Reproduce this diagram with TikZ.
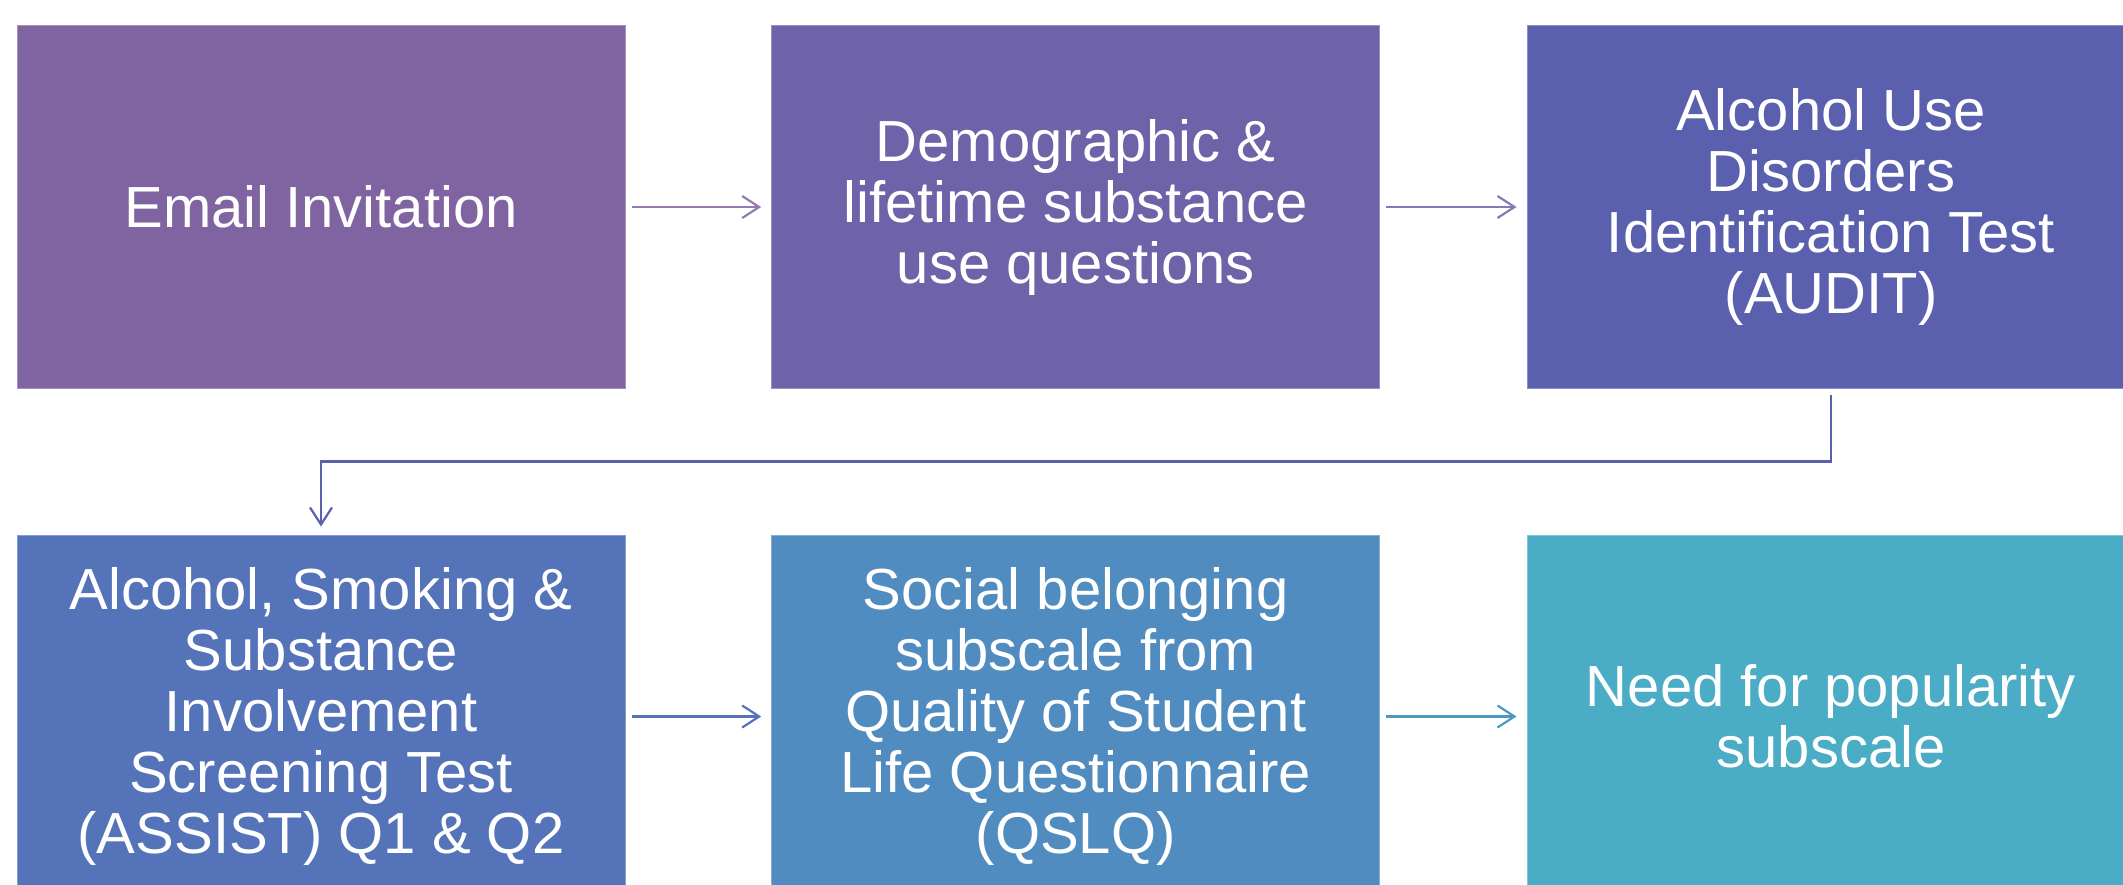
\documentclass[tikz,border=0pt]{standalone}
\usepackage{fontspec}
\setmainfont{Liberation Sans}
\usetikzlibrary{arrows.meta}
\definecolor{cA}{RGB}{128,100,161}
\definecolor{cB}{RGB}{110,98,168}
\definecolor{cC}{RGB}{90,95,174}
\definecolor{cD}{RGB}{85,115,184}
\definecolor{cE}{RGB}{80,140,192}
\definecolor{cF}{RGB}{75,172,198}
\tikzset{
  stepbox/.style={rectangle, fill=#1, draw=#1!70!white, line width=1pt,
    minimum width=608pt, minimum height=363pt, inner sep=0pt,
    text=white, align=center,
    font=\fontsize{58pt}{61pt}\selectfont},
  flow/.style={draw=#1, line width=2.2pt,
    -{Straight Barb[length=17pt,width=22pt,line width=2.2pt]},
    shorten <=6pt, shorten >=10pt}
}
\begin{document}
\begin{tikzpicture}[x=1pt,y=-1pt]
\useasboundingbox (0,0) rectangle (2123,884);
\begin{scope}
\clip (0,0) rectangle (2123,884);
% top row
\node[stepbox=cA] (b1) at (321,207) {Email Invitation};
\node[stepbox=cB] (b2) at (1075.7,207) {Demographic \&\\lifetime substance\\use questions};
\node[stepbox=cC] (b3) at (1831,207) {Alcohol Use\\Disorders\\Identification Test\\(AUDIT)};
% bottom row
\node[stepbox=cD] (b4) at (321,716.5) {Alcohol, Smoking \&\\Substance\\Involvement\\Screening Test\\(ASSIST) Q1 \& Q2};
\node[stepbox=cE] (b5) at (1075.7,716.5) {Social belonging\\subscale from\\Quality of Student\\Life Questionnaire\\(QSLQ)};
\node[stepbox=cF] (b6) at (1831,716.5) {Need for popularity\\subscale};
\end{scope}
% connectors
\draw[flow=cA!85!white] (b1.east) -- (b2.west);
\draw[flow=cB!85!white] (b2.east) -- (b3.west);
\draw[flow=cC, shorten >=8pt] (b3.south) -- ++(0,72.5) -| (b4.north);
\draw[flow=cD] (b4.east) -- (b5.west);
\draw[flow=cE!60!cF] (b5.east) -- (b6.west);
\end{tikzpicture}
\end{document}
